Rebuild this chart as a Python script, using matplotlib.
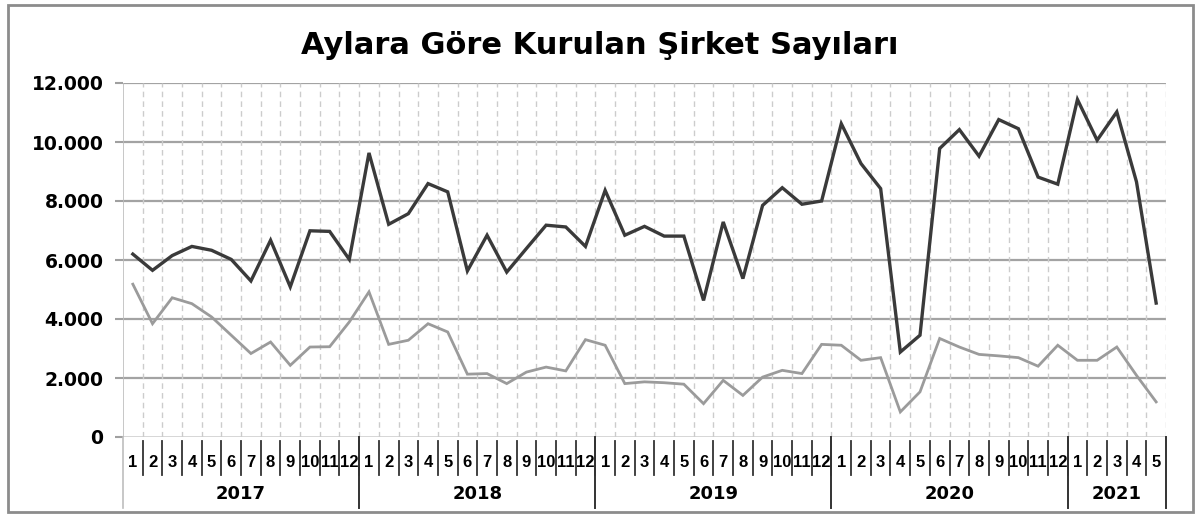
import numpy as np
import matplotlib
matplotlib.use("Agg")
import matplotlib.pyplot as plt
from matplotlib.patches import Rectangle

# ===== veri =====
years = ["2017", "2018", "2019", "2020", "2021"]
months_per_year = [12, 12, 12, 12, 5]
month_labels = [str(m) for n in months_per_year for m in range(1, n + 1)]

kurulan_1 = [6200, 5650, 6150, 6460, 6330, 6020, 5290, 6670, 5090, 6990, 6970, 6020,
             9630, 7210, 7570, 8590, 8310, 5630, 6840, 5590, 6390, 7180, 7120, 6460,
             8360, 6840, 7140, 6810, 6810, 4630, 7290, 5370, 7850, 8450, 7890, 8000,
             10620, 9270, 8420, 2880, 3450, 9780, 10420, 9520, 10760, 10450, 8810, 8570,
             11440, 10060, 11020, 8650, 4540]
kurulan_2 = [5180, 3840, 4720, 4520, 4070, 3450, 2830, 3220, 2430, 3050, 3060, 3900,
             4920, 3140, 3280, 3840, 3560, 2130, 2150, 1810, 2200, 2370, 2240, 3300,
             3110, 1810, 1870, 1840, 1790, 1130, 1920, 1410, 2030, 2260, 2150, 3140,
             3110, 2600, 2690, 850, 1530, 3340, 3050, 2800, 2750, 2690, 2400, 3110,
             2600, 2600, 3050, 2090, 1190]

# ===== grafik =====
plt.rcParams["font.family"] = ["DejaVu Sans"]
fig = plt.figure(figsize=(12, 5.2), dpi=100)
W, H = 1200, 520
ax = fig.add_axes([123 / W, 1 - 437 / H, (1166 - 123) / W, (437 - 83) / H])

n = len(month_labels)
x = np.arange(n) + 0.5
ax.plot(x, kurulan_1, color="#3a3a3a", lw=2.4, solid_joinstyle="miter")
ax.plot(x, kurulan_2, color="#9b9b9b", lw=2.0, solid_joinstyle="miter")

ax.set_xlim(0, n)
ax.set_ylim(0, 12000)
ax.set_yticks(np.arange(0, 12001, 2000))
ax.set_yticklabels([f"{v:,}".replace(",", ".") for v in range(0, 12001, 2000)],
                   fontsize=13.5, fontweight="bold")
ax.tick_params(axis="y", length=6, width=1.5, color="#a0a0a0", pad=8)
ax.set_xticks([])
for s in ax.spines.values():
    s.set_visible(False)

# ızgara
for v in range(2000, 12001, 2000):
    ax.axhline(v, color="#a3a3a3", lw=1.6, zorder=0)
ax.axhline(0, color="#cfcfcf", lw=1.2, zorder=0)
for b in range(1, n + 1):
    ax.axvline(b, color="#cccccc", lw=1.0, ls=(0, (4, 3)), zorder=0)
ax.axvline(0, color="#bdbdbd", lw=1.2, zorder=0)

# iki seviyeli x ekseni
tr = ax.get_xaxis_transform()
for i, lab in enumerate(month_labels):
    ax.text(i + 0.5, -0.073, lab, transform=tr, ha="center", va="center",
            fontsize=12, fontweight="bold", family="Liberation Sans")
for b in range(1, n):
    ax.plot([b, b], [-0.01, -0.107], transform=tr, color="#333333", lw=1.3,
            clip_on=False)
start = 0
ax.plot([0, 0], [0, -0.2], transform=tr, color="#bdbdbd", lw=1.2, clip_on=False)
for yr, cnt in zip(years, months_per_year):
    ax.text(start + cnt / 2, -0.161, yr, transform=tr, ha="center", va="center",
            fontsize=13, fontweight="bold")
    start += cnt
    ax.plot([start, start], [0, -0.2], transform=tr, color="#333333", lw=1.4,
            clip_on=False)

fig.text(0.5, 1 - 45 / H, "Aylara Göre Kurulan Şirket Sayıları", ha="center",
         va="center", fontsize=22, fontweight="bold")

fig.patches.append(Rectangle((8 / W, 1 - 512 / H), (1193 - 8) / W, (512 - 5) / H,
                             transform=fig.transFigure, fill=False,
                             edgecolor="#8c8c8c", lw=2))

fig.savefig("out.png", dpi=100, facecolor="white")
